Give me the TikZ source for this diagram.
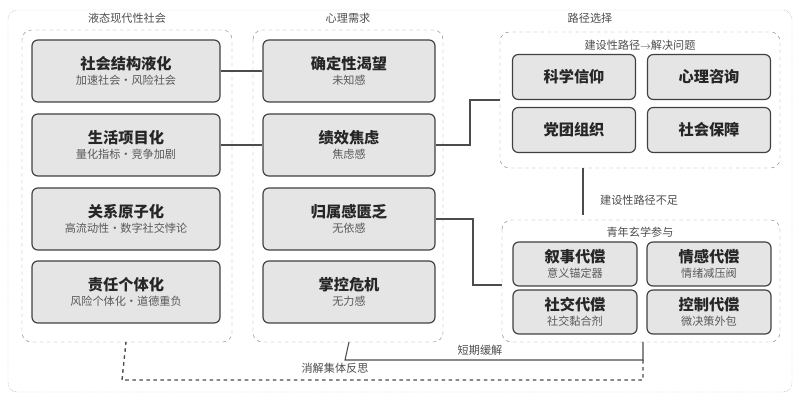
\documentclass[tikz,border=0pt]{standalone}
\usepackage{fontspec}
\setmainfont{Noto Sans CJK SC}
\usetikzlibrary{positioning}

\tikzset{
  box/.style={draw=black!75, line width=1pt, rounded corners=5pt, fill=black!10,
    align=center, inner sep=2pt},
  frame/.style={draw=black!45, dashed, rounded corners=8pt},
  tit/.style={font=\fontsize{13}{15}\selectfont\bfseries, text=black!85},
  sub/.style={font=\fontsize{9.5}{11}\selectfont, text=black!65},
  lab/.style={font=\fontsize{9.5}{11}\selectfont, text=black!70},
  link/.style={draw=black!70, line width=0.9pt},
}
\newcommand{\bx}[2]{{\fontsize{13}{16}\selectfont\bfseries\color{black!85}#1}\\[1pt]{\fontsize{9.5}{11}\selectfont\color{black!65}#2}}

\begin{document}
\begin{tikzpicture}[x=0.03cm,y=-0.03cm]
\useasboundingbox (0,0) rectangle (800,400);

% outer frame and column frames
\draw[draw=black!40, densely dotted, rounded corners=8pt] (8,10) rectangle (792,392);
\draw[frame] (22,30) rectangle (232,342);
\draw[frame] (253,30) rectangle (443,342);
\draw[frame] (500,32) rectangle (780,168);
\draw[frame] (502,220) rectangle (780,342);

\node[lab] (c1) at (127,18) {液态现代性社会};
\node[lab] (c2) at (348,18) {心理需求};
\node[lab] (c3) at (590,18) {路径选择};

% left column
\foreach \n/\y/\a/\b in {s1/71/社会结构液化/加速社会·风险社会,
  s2/145/生活项目化/量化指标·竞争加剧,
  s3/219/关系原子化/高流动性·数字社交悖论,
  s4/292/责任个体化/风险个体化·道德重负}
  \node[box, minimum width=188*0.03cm, minimum height=62*0.03cm] (\n) at (126,\y) {\bx{\a}{\b}};

% middle column
\foreach \n/\y/\a/\b in {m1/71/确定性渴望/未知感,
  m2/145/绩效焦虑/焦虑感,
  m3/219/归属感匮乏/无依感,
  m4/292/掌控危机/无力感}
  \node[box, minimum width=172*0.03cm, minimum height=62*0.03cm] (\n) at (349,\y) {\bx{\a}{\b}};

\foreach \i in {1,2}
  \draw[link] (s\i.east) -- (m\i.west);

% constructive paths
\node[lab] (t1) at (640,45) {建设性路径$\rightarrow$解决问题};
\foreach \n/\x/\y/\a in {p1/574/77/科学信仰, p2/709/77/心理咨询,
  p3/574/130/党团组织, p4/709/130/社会保障}
  \node[box, minimum width=123*0.03cm, minimum height=45*0.03cm, tit] (\n) at (\x,\y) {\a};

% youth metaphysics
\node[lab] (t2) at (640,232) {青年玄学参与};
\foreach \n/\x/\y/\a/\b in {q1/575/264/叙事代偿/意义锚定器, q2/709/264/情感代偿/情绪减压阀,
  q3/575/312/社交代偿/社交黏合剂, q4/709/312/控制代偿/微决策外包}
  \node[box, minimum width=124*0.03cm, minimum height=44*0.03cm] (\n) at (\x,\y) {\bx{\a}{\b}};

% connectors
\coordinate (top) at (500,100);
\coordinate (bot) at (502,285);
\draw[link] (m2.east) -- (470,145) |- (top);
\draw[link] (m3.east) -- (473,219) |- (bot);
\draw[link] (583,168) -- (583,215);
\node[lab, anchor=west] (n1) at (596,200) {建设性路径不足};

\draw[link] (643,342) |- (345,360) -- (m4.south |- 0,342);
\node[lab] (n2) at (480,350) {短期缓解};
\draw[link, dashed, line width=1.2pt] (643,360) |- (122,380) -- (s4.south |- 0,342);
\node[lab] (n3) at (335,368) {消解集体反思};
\end{tikzpicture}
\end{document}
